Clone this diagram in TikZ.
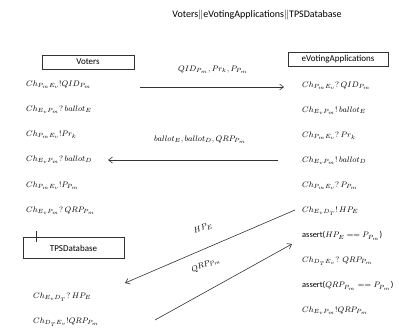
\documentclass[tikz,border=0pt]{standalone}
\usepackage{fontspec}
\setsansfont{Carlito}
\usetikzlibrary{arrows.meta}
\begin{document}
\begin{tikzpicture}[x=1pt,y=-1pt,
  txt/.style={anchor=west,inner sep=0pt,font=\fontsize{8.4}{10}\selectfont},
  lbl/.style={inner sep=0pt,font=\fontsize{8}{9}\selectfont},
  box/.style={draw=black!80,line width=0.6pt,inner sep=0pt,font=\sffamily\fontsize{9}{10}\selectfont},
  msg/.style={draw=black!80,line width=0.6pt,-{Straight Barb[length=4pt,width=6pt]}}]
\useasboundingbox (0,0) rectangle (399,329);
\node[lbl,font=\sffamily\fontsize{10}{11}\selectfont] (title) at (257,15) {Voters$\Vert$eVotingApplications$\Vert$TPSDatabase};
\node[box,minimum width=92pt,minimum height=14pt] (voters) at (88,62) {Voters};
\node[box,minimum width=100pt,minimum height=14pt] (eva) at (338,59) {eVotingApplications};
\node[box,minimum width=101pt,minimum height=21pt] (tps) at (73.5,248) {TPSDatabase};
\coordinate (tk1) at (36,231);
\coordinate (tk2) at (36,242);
\draw[black!80,line width=0.6pt] (tk1) -- (tk2);
% left column
\node[txt] (l1) at (26,85) {$Ch_{P_mE_v}!QID_{P_m}$};
\node[txt] (l2) at (26,110) {$Ch_{E_vP_m}?\,ballot_E$};
\node[txt] (l3) at (26,135) {$Ch_{P_mE_v}!Pr_k$};
\node[txt] (l4) at (26,160) {$Ch_{E_vP_m}?\,ballot_D$};
\node[txt] (l5) at (26,186) {$Ch_{P_mE_v}!P_{P_m}$};
\node[txt] (l6) at (26,211) {$Ch_{E_vP_m}?\,QRP_{P_m}$};
\node[txt] (l7) at (33,297) {$Ch_{E_vD_T}?\,HP_E$};
\node[txt] (l8) at (33,322) {$Ch_{D_TE_v}!QRP_{P_m}$};
% right column
\node[txt] (r1) at (302,86) {$Ch_{P_mE_v}?\,QID_{P_m}$};
\node[txt] (r2) at (302,111) {$Ch_{E_vP_m}!\,ballot_E$};
\node[txt] (r3) at (302,136) {$Ch_{P_mE_v}?\,Pr_k$};
\node[txt] (r4) at (302,161) {$Ch_{E_vP_m}!\,ballot_D$};
\node[txt] (r5) at (302,186) {$Ch_{P_mE_v}?\,P_{P_m}$};
\node[txt] (r6) at (302,211) {$Ch_{E_vD_T}!\,HP_E$};
\node[txt] (r7) at (302,236) {\sffamily assert($HP_E == P_{P_m}$)};
\node[txt] (r8) at (302,261) {$Ch_{D_TE_v}?\ QRP_{P_m}$};
\node[txt] (r9) at (302,286) {\sffamily assert($QRP_{P_m} == P_{P_m}$)};
\node[txt] (r10) at (302,311) {$Ch_{E_vP_m}!QRP_{P_m}$};
% arrows
\coordinate (a1s) at (140,87);
\coordinate (a1e) at (284,87);
\draw[msg] (a1s) -- (a1e);
\node[lbl] (m1) at (213,70) {$QID_{P_m},Pr_k,P_{P_m}$};
\coordinate (a2s) at (278,160);
\coordinate (a2e) at (108,160);
\draw[msg] (a2s) -- (a2e);
\node[lbl] (m2) at (200,140) {$ballot_E,ballot_D,QRP_{P_m}$};
\coordinate (a3s) at (295,210);
\coordinate (a3e) at (125,283);
\draw[msg] (a3s) -- (a3e);
\node[lbl,rotate=20] (m3) at (203,228) {$HP_E$};
\coordinate (a4s) at (155,320);
\coordinate (a4e) at (292,244);
\draw[msg] (a4s) -- (a4e);
\node[lbl,rotate=22] (m4) at (206,265) {$QRP_{P_m}$};
\end{tikzpicture}
\end{document}
